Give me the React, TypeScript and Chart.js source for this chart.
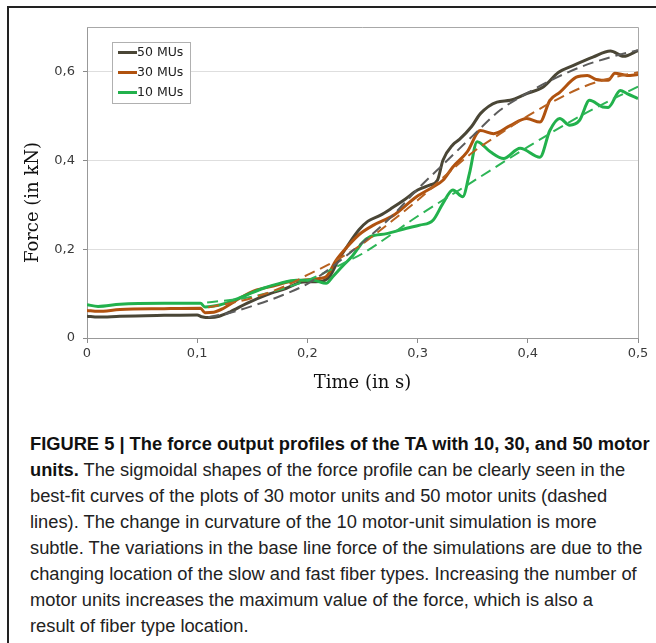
import React, { useEffect, useRef } from 'react';
import { Chart, registerables } from 'chart.js';

Chart.register(...registerables);

// ---------- data ----------
const xTicks = [0, 0.1, 0.2, 0.3, 0.4, 0.5];
const yTicks = [0, 0.2, 0.4, 0.6];
const seriesLabels = ['50 MUs', '30 MUs', '10 MUs'];

// 50 motor units (simulation)
const t50 = [0, 0.01, 0.03, 0.07, 0.1, 0.104, 0.112, 0.12, 0.13, 0.145, 0.163, 0.181, 0.196, 0.211, 0.22, 0.228, 0.236, 0.247, 0.255, 0.266, 0.277, 0.289, 0.3, 0.311, 0.318, 0.323, 0.332, 0.338, 0.349, 0.357, 0.372, 0.384, 0.399, 0.414, 0.428, 0.441, 0.459, 0.475, 0.487, 0.5];
const f50 = [0.049, 0.047, 0.049, 0.051, 0.052, 0.048, 0.046, 0.049, 0.059, 0.078, 0.097, 0.112, 0.126, 0.127, 0.138, 0.175, 0.206, 0.244, 0.263, 0.276, 0.293, 0.313, 0.333, 0.344, 0.355, 0.4, 0.435, 0.447, 0.476, 0.505, 0.531, 0.535, 0.55, 0.565, 0.598, 0.613, 0.632, 0.646, 0.634, 0.647];

// 30 motor units (simulation)
const t30 = [0, 0.01, 0.03, 0.07, 0.103, 0.107, 0.115, 0.124, 0.139, 0.154, 0.169, 0.184, 0.196, 0.211, 0.217, 0.226, 0.236, 0.247, 0.26, 0.278, 0.299, 0.314, 0.323, 0.332, 0.345, 0.357, 0.369, 0.384, 0.399, 0.411, 0.42, 0.429, 0.444, 0.454, 0.462, 0.473, 0.479, 0.49, 0.5];
const f30 = [0.062, 0.06, 0.064, 0.066, 0.067, 0.057, 0.058, 0.067, 0.09, 0.108, 0.117, 0.127, 0.13, 0.134, 0.138, 0.175, 0.205, 0.233, 0.254, 0.276, 0.318, 0.34, 0.355, 0.385, 0.419, 0.467, 0.46, 0.478, 0.494, 0.486, 0.535, 0.553, 0.587, 0.591, 0.582, 0.58, 0.596, 0.591, 0.593];

// 10 motor units (simulation)
const t10 = [0, 0.01, 0.03, 0.07, 0.103, 0.107, 0.118, 0.13, 0.145, 0.16, 0.175, 0.19, 0.205, 0.217, 0.223, 0.232, 0.241, 0.25, 0.257, 0.272, 0.29, 0.302, 0.314, 0.323, 0.332, 0.341, 0.347, 0.354, 0.366, 0.378, 0.393, 0.411, 0.42, 0.429, 0.438, 0.447, 0.456, 0.468, 0.473, 0.484, 0.49, 0.5];
const f10 = [0.075, 0.071, 0.076, 0.078, 0.078, 0.07, 0.073, 0.082, 0.097, 0.112, 0.123, 0.13, 0.13, 0.123, 0.138, 0.162, 0.185, 0.215, 0.228, 0.235, 0.247, 0.254, 0.265, 0.303, 0.333, 0.318, 0.37, 0.442, 0.419, 0.404, 0.427, 0.407, 0.467, 0.494, 0.479, 0.49, 0.535, 0.52, 0.519, 0.557, 0.55, 0.539];

// best-fit curves (dashed)
const fitT50 = [0.11, 0.13, 0.15, 0.175, 0.2, 0.225, 0.25, 0.275, 0.3, 0.325, 0.35, 0.375, 0.4, 0.425, 0.45, 0.475, 0.5];
const fitF50 = [0.047, 0.057, 0.072, 0.094, 0.122, 0.165, 0.215, 0.27, 0.335, 0.395, 0.455, 0.513, 0.552, 0.585, 0.612, 0.632, 0.648];
const fitT30 = [0.11, 0.15, 0.18, 0.2, 0.225, 0.25, 0.275, 0.3, 0.325, 0.35, 0.375, 0.4, 0.425, 0.45, 0.475, 0.5];
const fitF30 = [0.069, 0.09, 0.117, 0.142, 0.173, 0.212, 0.26, 0.31, 0.365, 0.418, 0.46, 0.5, 0.535, 0.565, 0.585, 0.598];
const fitT10 = [0.109, 0.15, 0.2, 0.239, 0.25, 0.3, 0.35, 0.4, 0.45, 0.5];
const fitF10 = [0.08, 0.093, 0.13, 0.176, 0.19, 0.274, 0.352, 0.43, 0.503, 0.566];

const captionLines = [
  { b: 'FIGURE 5 | The force output profiles of the TA with 10, 30, and 50 motor', r: '' },
  { b: 'units.', r: ' The sigmoidal shapes of the force profile can be clearly seen in the' },
  { b: '', r: 'best-fit curves of the plots of 30 motor units and 50 motor units (dashed' },
  { b: '', r: 'lines). The change in curvature of the 10 motor-unit simulation is more' },
  { b: '', r: 'subtle. The variations in the base line force of the simulations are due to the' },
  { b: '', r: 'changing location of the slow and fast fiber types. Increasing the number of' },
  { b: '', r: 'motor units increases the maximum value of the force, which is also a' },
  { b: '', r: 'result of fiber type location.' },
];

// ---------- styles ----------
const C50 = '#4a4636';
const C30 = '#b0520f';
const C10 = '#22b14c';
const seriesColors = [C50, C30, C10];

const pts = (t: number[], f: number[]) => t.map((x, i) => ({ x, y: f[i] }));
const fmt = (v: number) => (Math.abs(v) < 1e-9 ? '0' : v.toFixed(1).replace('.', ','));

const framePlugin = {
  id: 'frame',
  beforeDatasetsDraw(chart: any) {
    const { ctx, chartArea: a } = chart;
    ctx.save();
    ctx.strokeStyle = '#a8a8a8';
    ctx.lineWidth = 1;
    ctx.beginPath();
    ctx.moveTo(a.left, Math.round(a.top) + 0.5);
    ctx.lineTo(Math.round(a.right) + 0.5, Math.round(a.top) + 0.5);
    ctx.lineTo(Math.round(a.right) + 0.5, a.bottom);
    ctx.stroke();
    ctx.restore();
  },
};

const yTitlePlugin = {
  id: 'yTitle',
  afterDraw(chart: any) {
    const { ctx, chartArea: a } = chart;
    ctx.save();
    ctx.translate(a.left - 54, (a.top + a.bottom) / 2 + 20);
    ctx.rotate(-Math.PI / 2);
    ctx.font = '18px "DejaVu Serif"';
    ctx.fillStyle = '#111';
    ctx.textAlign = 'center';
    ctx.textBaseline = 'middle';
    ctx.fillText('Force (in kN)', 0, 0);
    ctx.restore();
  },
};

const legendPlugin = {
  id: 'boxLegend',
  afterDatasetsDraw(chart: any) {
    const { ctx, chartArea: a } = chart;
    const x0 = Math.round(a.left) + 25.5;
    const y0 = Math.round(a.top) + 15.5;
    ctx.save();
    ctx.fillStyle = '#fff';
    ctx.fillRect(x0, y0, 78, 61);
    ctx.strokeStyle = '#b0b0b0';
    ctx.lineWidth = 1;
    ctx.strokeRect(x0, y0, 78, 61);
    ctx.font = '12.5px "DejaVu Sans"';
    ctx.textAlign = 'left';
    ctx.textBaseline = 'middle';
    seriesLabels.forEach((lab, i) => {
      const y = y0 + 10 + i * 20;
      ctx.strokeStyle = seriesColors[i];
      ctx.lineWidth = 3;
      ctx.beginPath();
      ctx.moveTo(x0 + 5.5, y);
      ctx.lineTo(x0 + 24.5, y);
      ctx.stroke();
      ctx.fillStyle = '#222';
      ctx.fillText(lab, x0 + 24.5, y + 0.5);
    });
    ctx.restore();
  },
};

export default function App() {
  const ref = useRef<HTMLCanvasElement | null>(null);

  useEffect(() => {
    if (!ref.current) return;
    const solid = (label: string, t: number[], f: number[], color: string) => ({
      label,
      data: pts(t, f),
      borderColor: color,
      backgroundColor: color,
      borderWidth: 3,
      pointRadius: 0,
      fill: false,
      cubicInterpolationMode: 'monotone' as const,
    });
    const dashed = (label: string, t: number[], f: number[], color: string) => ({
      label,
      data: pts(t, f),
      borderColor: color,
      backgroundColor: color,
      borderWidth: 2,
      borderDash: [11, 6],
      pointRadius: 0,
      fill: false,
      cubicInterpolationMode: 'monotone' as const,
    });
    const chart = new Chart(ref.current, {
      type: 'line',
      data: {
        datasets: [
          dashed('fit 50 MUs', fitT50, fitF50, '#5c5c5c'),
          dashed('fit 30 MUs', fitT30, fitF30, '#b8611f'),
          dashed('fit 10 MUs', fitT10, fitF10, '#2db556'),
          solid(seriesLabels[2], t10, f10, C10),
          solid(seriesLabels[1], t30, f30, C30),
          solid(seriesLabels[0], t50, f50, C50),
        ] as any,
      },
      options: {
        animation: false,
        responsive: false,
        devicePixelRatio: 1,
        layout: { padding: { top: 19, right: 18, left: 0, bottom: 0 } },
        plugins: { legend: { display: false }, tooltip: { enabled: false } },
        elements: { point: { radius: 0 } },
        scales: {
          x: {
            type: 'linear',
            min: 0,
            max: 0.5,
            afterBuildTicks: (s: any) => {
              s.ticks = xTicks.map((v) => ({ value: v }));
            },
            afterFit: (s: any) => {
              s.height = 70;
            },
            grid: { drawOnChartArea: false, tickLength: 5, tickColor: '#8a8a8a' },
            border: { color: '#999', width: 1 },
            ticks: {
              padding: 3,
              maxRotation: 0,
              autoSkip: false,
              color: '#3a3a3a',
              font: { family: 'DejaVu Sans', size: 13 },
              callback: (v: any) => fmt(Number(v)),
            },
            title: {
              display: true,
              text: 'Time (in s)',
              color: '#111',
              font: { family: 'DejaVu Serif', size: 18 },
              padding: { top: 0, bottom: 14 },
            },
          },
          y: {
            type: 'linear',
            min: 0,
            max: 0.7,
            afterBuildTicks: (s: any) => {
              s.ticks = yTicks.map((v) => ({ value: v }));
            },
            afterFit: (s: any) => {
              s.width = 79;
            },
            grid: { color: '#dedede', tickLength: 4, tickColor: '#8a8a8a' },
            border: { color: '#999', width: 1 },
            ticks: {
              padding: 8,
              color: '#3a3a3a',
              font: { family: 'DejaVu Sans', size: 13 },
              callback: (v: any) => fmt(Number(v)),
            },
          },
        },
      } as any,
      plugins: [framePlugin, legendPlugin, yTitlePlugin],
    });
    return () => chart.destroy();
  }, []);

  return (
    <div style={{ position: 'absolute', left: 0, top: 0, width: 656, height: 643, overflow: 'hidden', background: '#fff' }}>
      <div
        style={{
          position: 'absolute',
          left: 7,
          top: 6,
          width: 700,
          height: 700,
          borderLeft: '2px solid #222',
          borderTop: '2px solid #222',
        }}
      />
      <canvas
        ref={ref}
        width={648}
        height={400}
        style={{ position: 'absolute', left: 8, top: 8, width: 648, height: 400 }}
      />
      <div
        style={{
          position: 'absolute',
          left: 30,
          top: 431,
          fontFamily: '"Liberation Sans", Arial, sans-serif',
          fontSize: 18.3,
          lineHeight: '26px',
          color: '#222',
          whiteSpace: 'nowrap',
        }}
      >
        {captionLines.map((ln, i) => (
          <div key={i}>
            {ln.b && <span style={{ fontWeight: 'bold', color: '#111' }}>{ln.b}</span>}
            {ln.r}
          </div>
        ))}
      </div>
    </div>
  );
}
